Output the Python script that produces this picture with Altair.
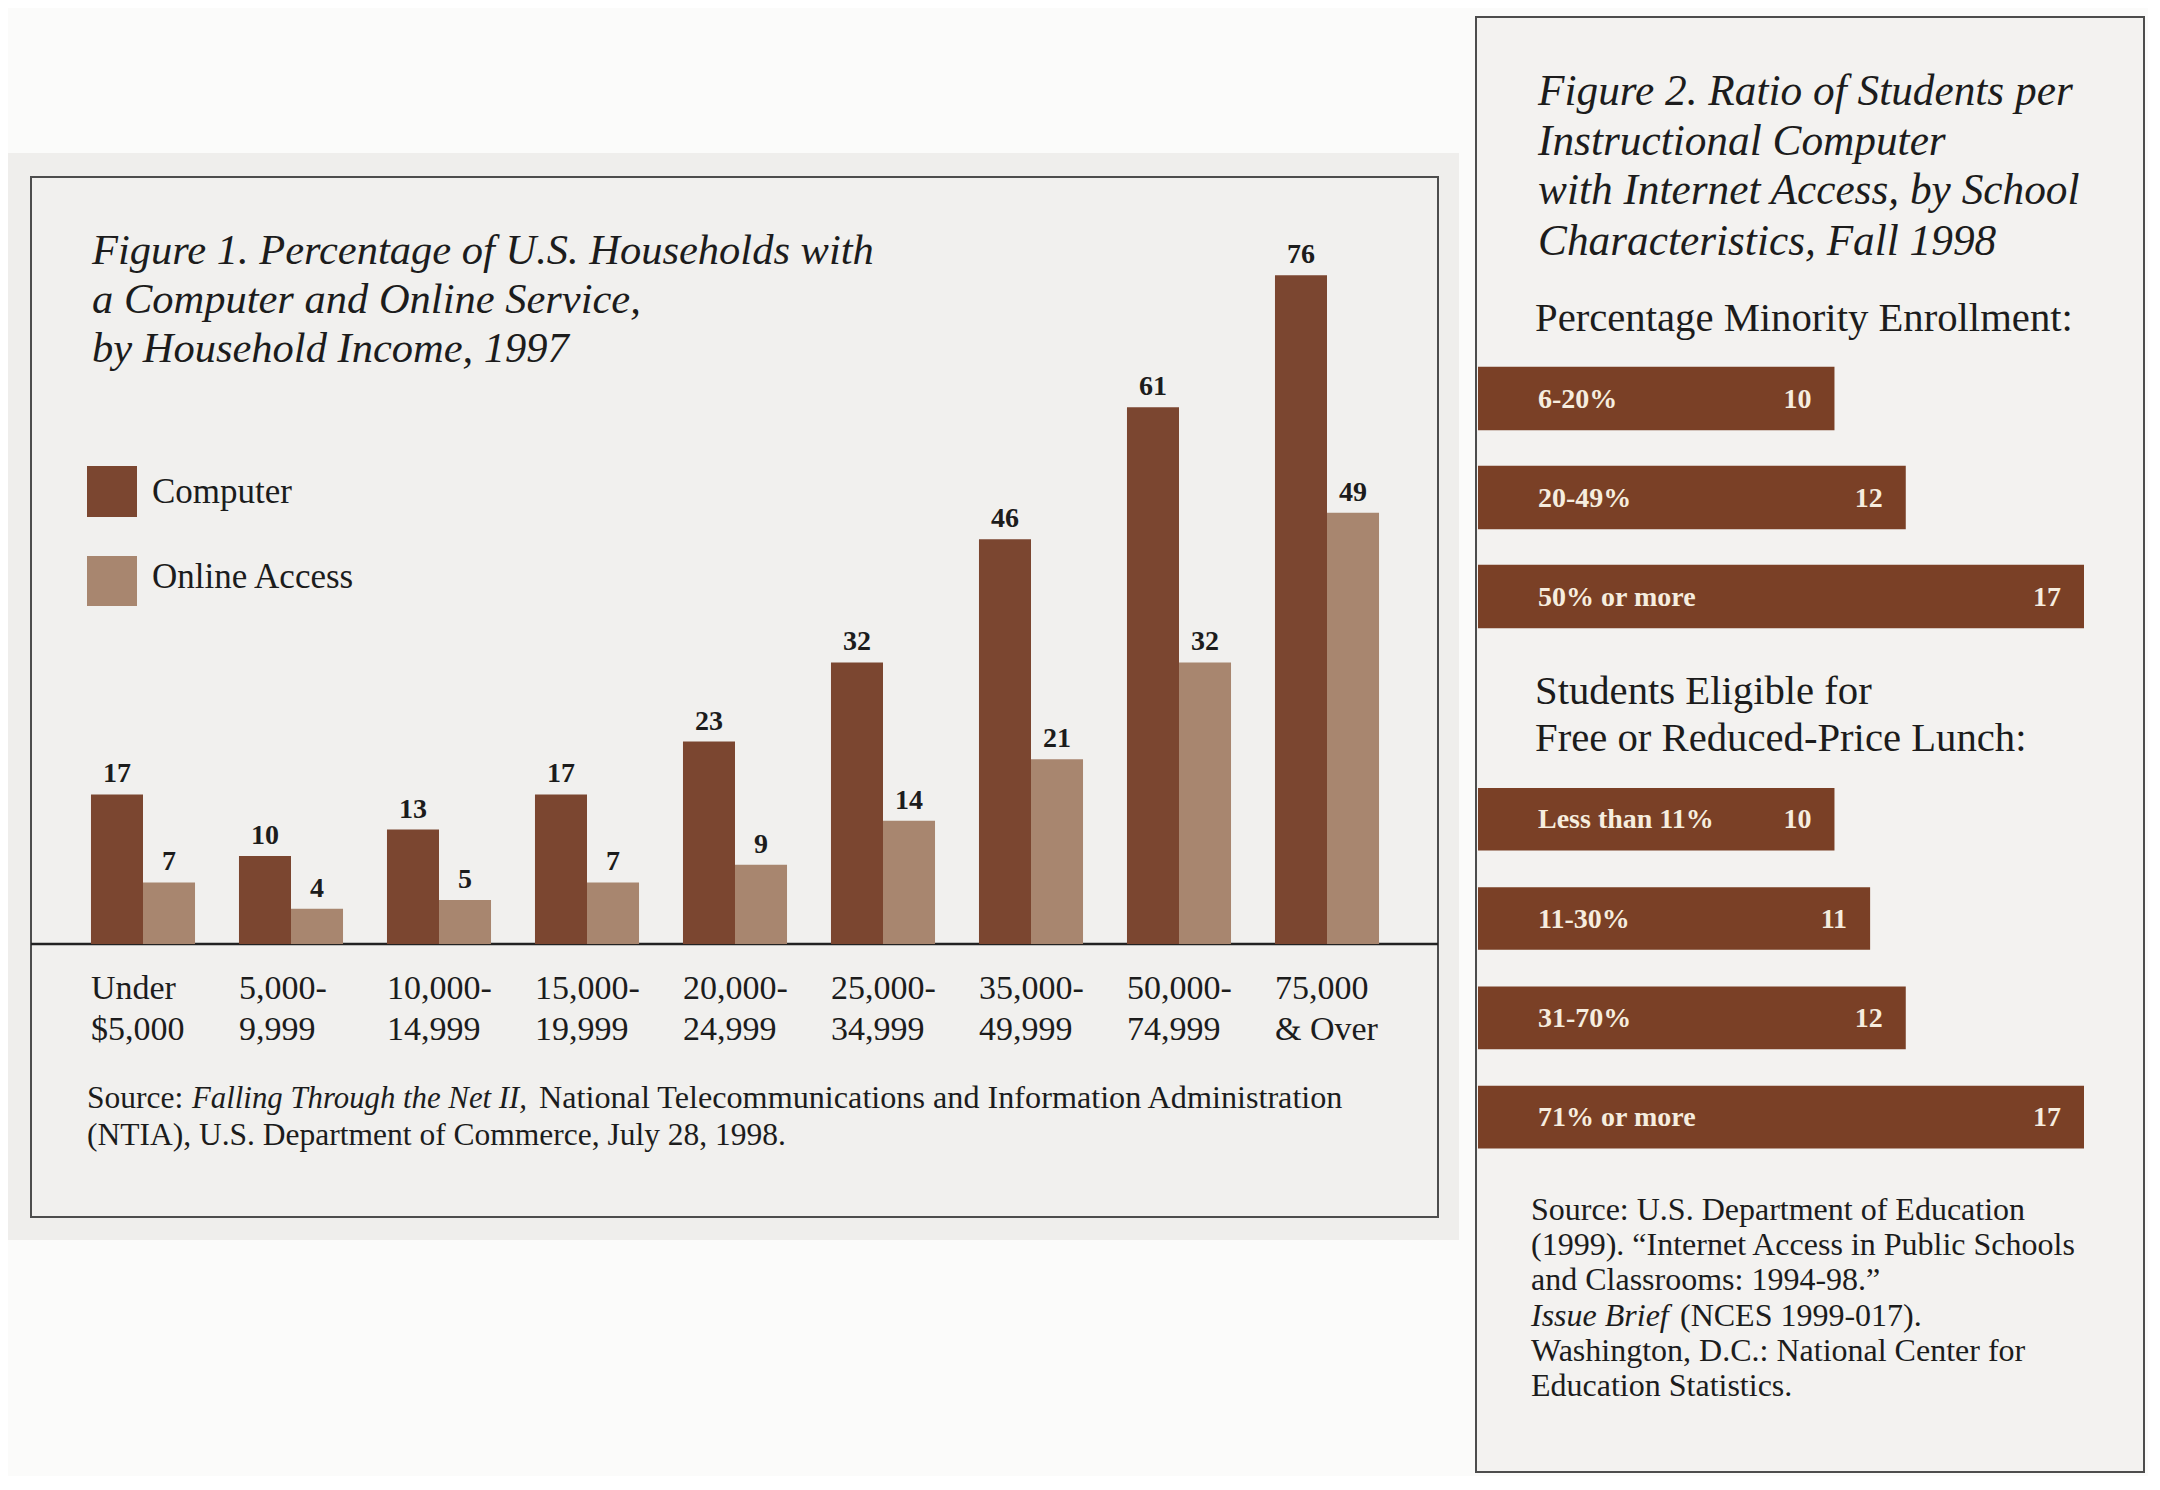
import altair as alt
import pandas as pd

# ---------------- data ----------------
income_line1 = ["Under", "5,000-", "10,000-", "15,000-", "20,000-", "25,000-", "35,000-", "50,000-", "75,000"]
income_line2 = ["$5,000", "9,999", "14,999", "19,999", "24,999", "34,999", "49,999", "74,999", "& Over"]
computer_pct = [17, 10, 13, 17, 23, 32, 46, 61, 76]
online_pct = [7, 4, 5, 7, 9, 14, 21, 32, 49]
series_names = ["Computer", "Online Access"]
series_colors = ["#7b4630", "#a8866f"]

minority_groups = ["6-20%", "20-49%", "50% or more"]
minority_ratio = [10, 12, 17]
lunch_groups = ["Less than 11%", "11-30%", "31-70%", "71% or more"]
lunch_ratio = [10, 11, 12, 17]
fig2_bar_color = "#7a4026"
fig2_text_color = "#f6eddf"

OFF = 8
FONT = "Liberation Serif"
INK = "#1c1c1c"

dummy = alt.Data(values=[{"a": 1}])


def rect(x1, y1, x2, y2, fill, stroke=None, sw=0):
    kw = dict(fill=fill)
    if stroke:
        kw.update(stroke=stroke, strokeWidth=sw)
    else:
        kw.update(strokeWidth=0)
    return alt.Chart(dummy).mark_rect(**kw).encode(
        x=alt.value(x1 - OFF), x2=alt.value(x2 - OFF),
        y=alt.value(y1 - OFF), y2=alt.value(y2 - OFF))


def txt(s, x, y, size, style="normal", weight="normal", align="left", color=INK):
    return alt.Chart(dummy).mark_text(
        text=s, font=FONT, fontSize=size, fontStyle=style, fontWeight=weight,
        align=align, baseline="alphabetic", color=color
    ).encode(x=alt.value(x - OFF), y=alt.value(y - OFF))


# ---------------- Figure 1 ----------------
keys = [a + " " + b for a, b in zip(income_line1, income_line2)]
rows = []
for k, c, o in zip(keys, computer_pct, online_pct):
    rows.append({"income": k, "series": series_names[0], "value": c})
    rows.append({"income": k, "series": series_names[1], "value": o})
df1 = pd.DataFrame(rows)
df_cat = pd.DataFrame({"income": keys, "l1": income_line1, "l2": income_line2})

x_scale = alt.Scale(domain=keys, range=[61, 1393], paddingInner=0.297, paddingOuter=0.1485)
xo_scale = alt.Scale(domain=series_names, paddingInner=0, paddingOuter=0)
y_scale = alt.Scale(domain=[0, 76], range=[936, 267.2], nice=False, zero=True)

X1 = alt.X("income:N", scale=x_scale, axis=None)
XO = alt.XOffset("series:N", scale=xo_scale)
Y1 = alt.Y("value:Q", scale=y_scale, axis=None)

bars1 = alt.Chart(df1).mark_bar(strokeWidth=0).encode(
    x=X1, xOffset=XO, y=Y1,
    color=alt.Color("series:N", scale=alt.Scale(domain=series_names, range=series_colors), legend=None))

vals1 = alt.Chart(df1).mark_text(
    font=FONT, fontSize=28, fontWeight="bold", baseline="alphabetic", dy=-12, color=INK
).encode(x=X1, xOffset=XO, y=Y1, text="value:Q")

cat1 = alt.Chart(df_cat).mark_text(
    font=FONT, fontSize=34, align="left", baseline="alphabetic", color=INK
).encode(x=alt.X("income:N", scale=x_scale, axis=None, bandPosition=0),
         y=alt.value(999 - OFF), text="l1:N")
cat2 = alt.Chart(df_cat).mark_text(
    font=FONT, fontSize=34, align="left", baseline="alphabetic", color=INK
).encode(x=alt.X("income:N", scale=x_scale, axis=None, bandPosition=0),
         y=alt.value(1040 - OFF), text="l2:N")

fig1 = alt.layer(bars1, vals1, cat1, cat2)

# ---------------- Figure 2 ----------------
dfA = pd.DataFrame({"group": minority_groups, "ratio": minority_ratio})
dfB = pd.DataFrame({"group": lunch_groups, "ratio": lunch_ratio})
x2_scale = alt.Scale(domain=[0, 17], range=[1470, 2076], nice=False, zero=True)


def fig2_block(df, groups, yrange, pin):
    Y = alt.Y("group:N", scale=alt.Scale(domain=groups, range=yrange, paddingInner=pin,
                                          paddingOuter=pin / 2), axis=None)
    X = alt.X("ratio:Q", scale=x2_scale, axis=None)
    b = alt.Chart(df).mark_bar(color=fig2_bar_color, strokeWidth=0).encode(x=X, y=Y)
    lab = alt.Chart(df).mark_text(
        font=FONT, fontSize=28, fontWeight="bold", align="left", baseline="middle",
        color=fig2_text_color, dy=1
    ).encode(x=alt.value(1538 - OFF), y=Y, text="group:N")
    val = alt.Chart(df).mark_text(
        font=FONT, fontSize=28, fontWeight="bold", align="right", baseline="middle",
        color=fig2_text_color, dx=-23, dy=1
    ).encode(x=X, y=Y, text="ratio:Q")
    return alt.layer(b, lab, val)


fig2a = fig2_block(dfA, minority_groups, [341, 638], 0.36)
fig2b = fig2_block(dfB, lunch_groups, [761.6, 1158.8], 0.37)

# ---------------- decoration & text ----------------
decor = [
    rect(8, 153, 1459, 1240, "#efeeec"),
    rect(31, 177, 1438, 1217, "#f1f0ee", "#4d4d4d", 2),
    rect(1476, 17, 2144, 1472, "#f3f2f0", "#4d4d4d", 2),
    alt.Chart(dummy).mark_rule(color="#222222", strokeWidth=2.5).encode(
        x=alt.value(31 - OFF), x2=alt.value(1438 - OFF), y=alt.value(944 - OFF)),
    # legend swatches
    rect(87, 466, 137, 517, series_colors[0]),
    rect(87, 556, 137, 606, series_colors[1]),
]

texts = [
    txt("Figure 1. Percentage of U.S. Households with", 92, 264, 42.5, style="italic"),
    txt("a Computer and Online Service,", 92, 313, 42.5, style="italic"),
    txt("by Household Income, 1997", 92, 362, 42.5, style="italic"),
    txt("Computer", 152, 503, 35),
    txt("Online Access", 152, 588, 35),
    txt("Source:", 87, 1108, 31.5),
    txt("Falling Through the Net II,", 192, 1108, 30.8, style="italic"),
    txt("National Telecommunications and Information Administration", 539, 1108, 32.2),
    txt("(NTIA), U.S. Department of Commerce, July 28, 1998.", 87, 1145, 31.5),

    txt("Figure 2. Ratio of Students per", 1538, 105, 43.3, style="italic"),
    txt("Instructional Computer", 1538, 155, 43.3, style="italic"),
    txt("with Internet Access, by School", 1538, 204, 43.3, style="italic"),
    txt("Characteristics, Fall 1998", 1538, 255, 43.3, style="italic"),
    txt("Percentage Minority Enrollment:", 1535, 331, 40.7),
    txt("Students Eligible for", 1535, 704, 40.7),
    txt("Free or Reduced-Price Lunch:", 1535, 751, 40.7),
    txt("Source: U.S. Department of Education", 1531, 1220, 32),
    txt("(1999). \u201cInternet Access in Public Schools", 1531, 1255, 32),
    txt("and Classrooms: 1994-98.\u201d", 1531, 1290, 32),
    txt("Issue Brief", 1531, 1326, 32, style="italic"),
    txt("(NCES 1999-017).", 1680, 1326, 32),
    txt("Washington, D.C.: National Center for", 1531, 1361, 32),
    txt("Education Statistics.", 1531, 1396, 32),
]

chart = alt.layer(*decor, fig1, fig2a, fig2b, *texts).resolve_scale(
    x="independent", y="independent", color="independent"
).properties(
    width=2140, height=1468, padding=0, background="#fbfbfa",
    autosize=alt.AutoSizeParams(type="none")
).configure_view(stroke=None)

chart.save("out.html", embed_options={"renderer": "svg", "actions": False})
